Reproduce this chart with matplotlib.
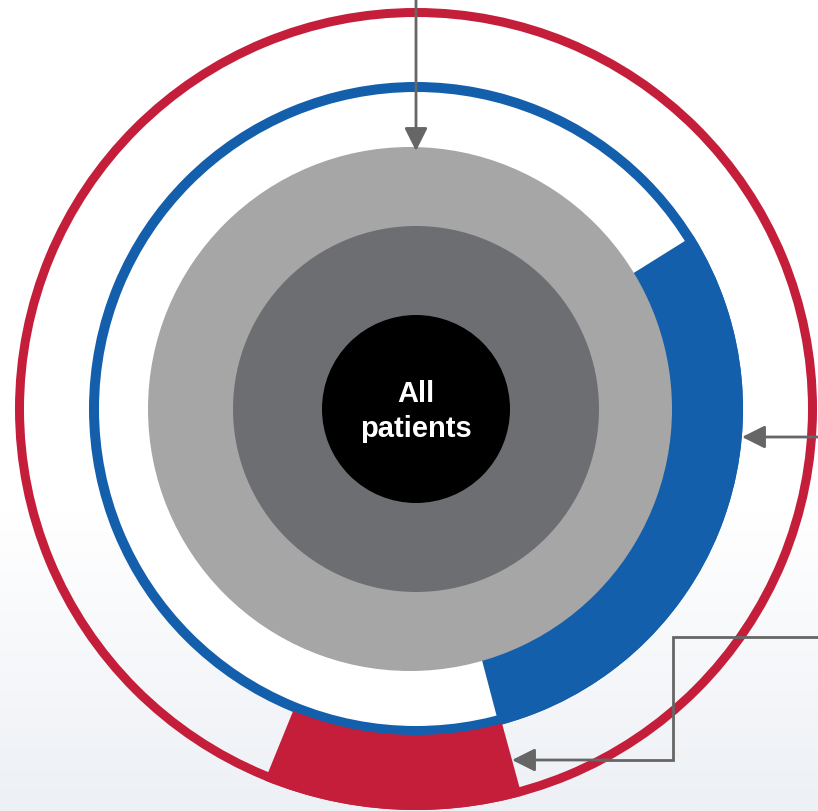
import numpy as np
import matplotlib
matplotlib.use("Agg")
import matplotlib.pyplot as plt
from matplotlib.patches import Circle, Wedge

# share of the full circle held by each highlighted segment
segment_names = ["blue segment", "red segment"]
segment_share = [0.298, 0.104]
segment_start = [32.0, -74.7]   # degrees, segments run clockwise from here
segment_colors = ["#135FAC", "#C41E3A"]

center_lines = ["All", "patients"]

W, H = 818, 812
cx, cy = 416, H - 410

fig = plt.figure(figsize=(W / 100, H / 100), dpi=100)
ax = fig.add_axes([0, 0, 1, 1])
ax.set_xlim(0, W)
ax.set_ylim(0, H)
ax.set_aspect("equal")
ax.axis("off")

# faint background wash at the bottom
grad = np.linspace(0, 1, 200)[:, None] * np.ones((1, 10))
bg = matplotlib.colors.LinearSegmentedColormap.from_list("bg", ["#ffffff", "#edf0f5"])
ax.imshow(grad, extent=[0, W, 0, 300], origin="upper", cmap=bg, aspect="auto", zorder=0)

# white disc inside the blue ring
ax.add_patch(Circle((cx, cy), 322, color="white", zorder=1))

# outer rings
ax.add_patch(Wedge((cx, cy), 401, 0, 360, width=9, color=segment_colors[1], zorder=2, lw=0))
ax.add_patch(Wedge((cx, cy), 327, 0, 360, width=10, color=segment_colors[0], zorder=3, lw=0))

# segments (the blue one sits under the grey disc so its inner edge follows it)
radii = [(327, 80), (401, 75)]
zs = [3.5, 4.5]
for share, start, col, (r, w), z in zip(segment_share, segment_start, segment_colors, radii, zs):
    end = start - share * 360
    ax.add_patch(Wedge((cx, cy), r, end, start, width=w, color=col, zorder=z, lw=0))

# filled discs
ax.add_patch(Circle((410, cy), 262, color="#A6A6A6", zorder=4, lw=0))
ax.add_patch(Circle((cx, cy), 183, color="#6D6E71", zorder=5, lw=0))
ax.add_patch(Circle((cx, cy), 94, color="black", zorder=6, lw=0))

for line, yb in zip(center_lines, [H - 402, H - 437]):
    ax.text(cx, yb, line, color="white", fontsize=21, fontweight="bold",
            family=["Liberation Sans", "DejaVu Sans"], ha="center", va="baseline", zorder=7)

gray = "#666666"
arrow_kw = dict(arrowstyle="-|>,head_length=0.7,head_width=0.35", color=gray, lw=2,
                mutation_scale=20, shrinkA=0, shrinkB=0)

# top arrow
ax.annotate("", xy=(cx, H - 152), xytext=(cx, H + 5), arrowprops=arrow_kw, zorder=8)
# right arrow
ax.annotate("", xy=(742, H - 438), xytext=(W + 5, H - 438), arrowprops=arrow_kw, zorder=8)
# elbow connector
ax.plot([W + 5, 673, 673, 600], [H - 638, H - 638, H - 761, H - 761], color=gray, lw=2,
        solid_joinstyle="miter", zorder=8)
ax.annotate("", xy=(512, H - 761), xytext=(610, H - 761), arrowprops=arrow_kw, zorder=8)

fig.savefig("out.png", dpi=100)
